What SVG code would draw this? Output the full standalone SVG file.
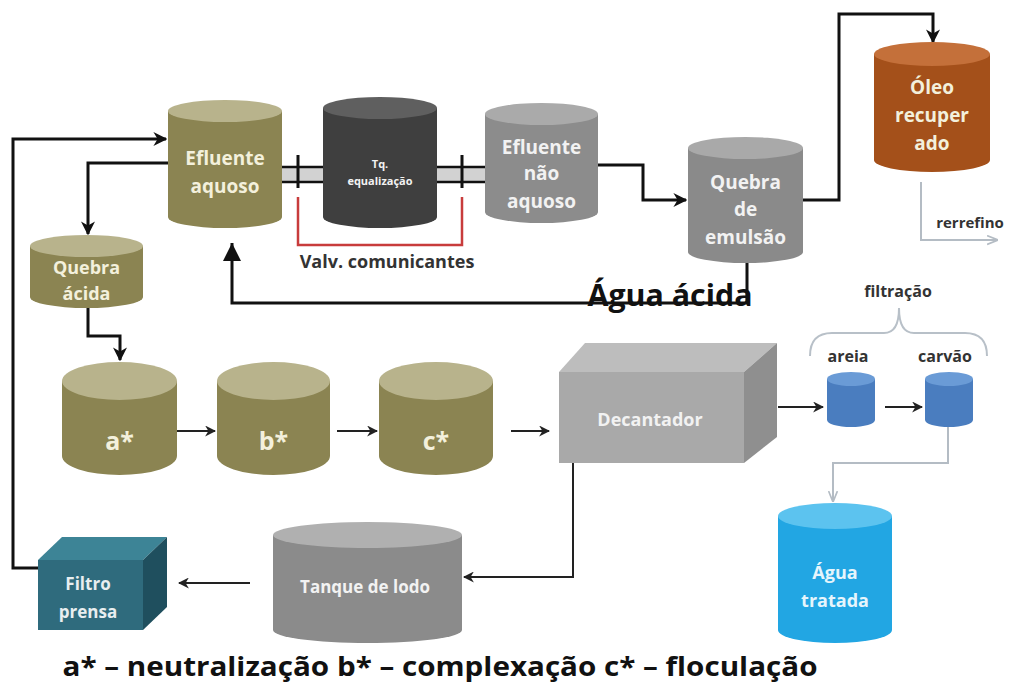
<svg xmlns="http://www.w3.org/2000/svg" width="1019" height="684" viewBox="0 0 1019 684">
<defs>
<style>
.t{font-family:"Open Sans","Liberation Sans",sans-serif;font-weight:bold;text-anchor:middle}
.cream{fill:#f3f0dc}
.wh{fill:#f2f2f2}
.lbl{fill:#333333}
.conn{fill:none;stroke:#111;stroke-width:3}
.thin{fill:none;stroke:#222;stroke-width:2}
.gray{fill:none;stroke:#b4bcc4;stroke-width:2}
.olive{fill:#8b8452}.olivetop{fill:#b8b38c}
</style>
<marker id="ah" viewBox="0 0 10 10" refX="9" refY="5" markerWidth="14" markerHeight="14" markerUnits="userSpaceOnUse" orient="auto">
<path d="M0,0 L10,5 L0,10 L3,5 Z" fill="#111"/>
</marker>
<marker id="ahs" viewBox="0 0 10 10" refX="9" refY="5" markerWidth="11" markerHeight="11" markerUnits="userSpaceOnUse" orient="auto">
<path d="M0,0 L10,5 L0,10 L3,5 Z" fill="#222"/>
</marker>
<marker id="ahg" viewBox="0 0 10 10" refX="9" refY="5" markerWidth="11" markerHeight="11" markerUnits="userSpaceOnUse" orient="auto">
<path d="M0,1 L10,5 L0,9" fill="none" stroke="#b4bcc4" stroke-width="1.5"/>
</marker>
<marker id="big" viewBox="0 0 10 10" refX="10" refY="5" markerWidth="18" markerHeight="18" markerUnits="userSpaceOnUse" orient="auto">
<path d="M0,0 L10,5 L0,10 Z" fill="#111"/>
</marker>
</defs>
<rect width="1019" height="684" fill="#ffffff"/>

<g id="connectors">
<path class="conn" d="M38,568 H13 V139 H166" marker-end="url(#ah)"/>
<path class="conn" d="M168,163 H88 V234" marker-end="url(#ah)"/>
<path class="conn" d="M88,308 V336 H120 V360" marker-end="url(#ah)"/>
<path class="thin" d="M177,431 H215" marker-end="url(#ahs)"/>
<path class="thin" d="M337,431 H377" marker-end="url(#ahs)"/>
<path class="thin" d="M511,431 H549" marker-end="url(#ahs)"/>
<path class="thin" d="M778,407 H823" marker-end="url(#ahs)"/>
<path class="thin" d="M885,407 H922" marker-end="url(#ahs)"/>
<path class="gray" d="M948,427 V463 H833 V501" marker-end="url(#ahg)"/>
<path class="thin" d="M573,463 V577 H464" marker-end="url(#ahs)"/>
<path class="thin" d="M250,583 H179" marker-end="url(#ahs)"/>
<path class="conn" d="M598,165 H643 V200 H686" marker-end="url(#ah)"/>
<path class="conn" d="M803,200 H839 V14 H933 V42" marker-end="url(#ah)"/>
<path class="gray" d="M921,182 V240 H997" marker-end="url(#ahg)"/>
<path class="conn" d="M747,263 V303 H232 V243" marker-end="url(#big)"/>
<path fill="none" stroke="#b8c0c8" stroke-width="2" d="M810,356 Q810,333 832,333 H884 Q899,333 899,308 Q899,333 914,333 H965 Q987,333 987,356"/>
</g>

<g id="pipes">
<rect x="282" y="167" width="41" height="15" fill="#d2d2d2"/>
<rect x="437" y="167" width="48" height="15" fill="#d2d2d2"/>
<path d="M282,167 H323 M282,182 H323 M437,167 H485 M437,182 H485" stroke="#111" stroke-width="2.5" fill="none"/>
<path d="M298,155 V188 M462,155 V188" stroke="#111" stroke-width="3" fill="none"/>
<path d="M298,197 V245 H462 V197" stroke="#c83c3c" stroke-width="2.5" fill="none"/>
</g>

<g id="efluente-aquoso">
<path class="olive" d="M168,111 V217 A57,11 0 0 0 282,217 V111 Z"/>
<ellipse class="olivetop" cx="225" cy="111" rx="57" ry="11"/>
<text class="t cream" x="225" y="165" font-size="19">Efluente</text>
<text class="t cream" x="225" y="193" font-size="19">aquoso</text>
</g>

<g id="tq-equalizacao">
<path fill="#3f3f3f" d="M323,108 V217 A57,11 0 0 0 437,217 V108 Z"/>
<ellipse fill="#5f5f5f" cx="380" cy="108" rx="57" ry="11"/>
<text class="t wh" x="380" y="168" font-size="11">Tq.</text>
<text class="t wh" x="380" y="185" font-size="11">equalização</text>
</g>

<g id="efluente-nao-aquoso">
<path fill="#8c8c8c" d="M485,114 V212 A56.5,11 0 0 0 598,212 V114 Z"/>
<ellipse fill="#aaaaaa" cx="541.5" cy="114" rx="56.5" ry="11"/>
<text class="t wh" x="541.5" y="154" font-size="19">Efluente</text>
<text class="t wh" x="541.5" y="180" font-size="19">não</text>
<text class="t wh" x="541.5" y="208" font-size="19">aquoso</text>
</g>

<g id="valv-label">
<text class="t lbl" x="387" y="268" font-size="18">Valv. comunicantes</text>
</g>

<g id="quebra-emulsao">
<path fill="#8a8a8a" d="M688,148 V252 A57.5,11 0 0 0 803,252 V148 Z"/>
<ellipse fill="#a9a9a9" cx="745.5" cy="148" rx="57.5" ry="11"/>
<text class="t wh" x="745.5" y="189" font-size="19">Quebra</text>
<text class="t wh" x="745.5" y="216" font-size="19">de</text>
<text class="t wh" x="745.5" y="244" font-size="19">emulsão</text>
</g>

<g id="oleo">
<path fill="#a4501a" d="M874,54 V160 A58,12 0 0 0 990,160 V54 Z"/>
<ellipse fill="#c4703a" cx="932" cy="54" rx="58" ry="12"/>
<text class="t cream" x="932" y="94" font-size="19">Óleo</text>
<text class="t cream" x="932" y="122" font-size="19">recuper</text>
<text class="t cream" x="932" y="150" font-size="19">ado</text>
</g>

<g id="rerrefino">
<text class="t lbl" x="970" y="228" font-size="15">rerrefino</text>
</g>

<g id="agua-acida">
<text class="t" fill="#111" x="670" y="306" font-size="31" textLength="165" lengthAdjust="spacingAndGlyphs">Água ácida</text>
</g>

<g id="quebra-acida">
<path class="olive" d="M30,246 V297 A56.5,11 0 0 0 143,297 V246 Z"/>
<ellipse class="olivetop" cx="86.5" cy="246" rx="56.5" ry="11"/>
<text class="t cream" x="86.5" y="274" font-size="18">Quebra</text>
<text class="t cream" x="86.5" y="300" font-size="18">ácida</text>
</g>

<g id="a">
<path class="olive" d="M62,381 V456 A57.5,19 0 0 0 177,456 V381 Z"/>
<ellipse class="olivetop" cx="119.5" cy="381" rx="57.5" ry="19"/>
<text class="t cream" x="119.5" y="450" font-size="25">a*</text>
</g>
<g id="b">
<path class="olive" d="M217,381 V456 A56.5,19 0 0 0 330,456 V381 Z"/>
<ellipse class="olivetop" cx="273.5" cy="381" rx="56.5" ry="19"/>
<text class="t cream" x="273.5" y="450" font-size="25">b*</text>
</g>
<g id="c">
<path class="olive" d="M379,381 V456 A57,19 0 0 0 493,456 V381 Z"/>
<ellipse class="olivetop" cx="436" cy="381" rx="57" ry="19"/>
<text class="t cream" x="436" y="450" font-size="25">c*</text>
</g>

<g id="decantador">
<polygon fill="#bdbdbd" points="559,372 585,343 777,343 744,372"/>
<polygon fill="#8f8f8f" points="744,372 777,343 777,437 744,463"/>
<rect x="559" y="372" width="185" height="91" fill="#a9a9a9"/>
<text class="t wh" x="650" y="426" font-size="18">Decantador</text>
</g>

<g id="filtracao">
<text class="t lbl" x="898" y="297" font-size="16">filtração</text>
</g>

<g id="areia">
<text class="t lbl" x="848" y="362" font-size="16">areia</text>
<path fill="#4a7dbf" d="M827,379 V420 A24,7 0 0 0 875,420 V379 Z"/>
<ellipse fill="#6a9bd6" cx="851" cy="379" rx="24" ry="7"/>
</g>

<g id="carvao">
<text class="t lbl" x="945" y="362" font-size="16">carvão</text>
<path fill="#4a7dbf" d="M925,379 V420 A24,7 0 0 0 973,420 V379 Z"/>
<ellipse fill="#6a9bd6" cx="949" cy="379" rx="24" ry="7"/>
</g>

<g id="agua-tratada">
<path fill="#22a6e3" d="M778,516 V630 A57,13 0 0 0 892,630 V516 Z"/>
<ellipse fill="#5cc3ef" cx="835" cy="516" rx="57" ry="13"/>
<text class="t" fill="#e6f5fc" x="835" y="579" font-size="18">Água</text>
<text class="t" fill="#e6f5fc" x="835" y="607" font-size="18">tratada</text>
</g>

<g id="tanque-lodo">
<path fill="#8b8b8b" d="M273,535 V630 A94.5,13 0 0 0 462,630 V535 Z"/>
<ellipse fill="#b0b0b0" cx="367.5" cy="535" rx="94.5" ry="13"/>
<text class="t wh" x="365" y="593" font-size="17">Tanque de lodo</text>
</g>

<g id="filtro-prensa">
<polygon fill="#3d8496" points="38,560 62,537 167,537 143,560"/>
<polygon fill="#1f4f5e" points="143,560 167,537 167,607 143,630"/>
<rect x="38" y="560" width="105" height="70" fill="#2f6b7d"/>
<text class="t" fill="#e8eef0" x="88" y="590" font-size="17">Filtro</text>
<text class="t" fill="#e8eef0" x="88" y="618" font-size="17">prensa</text>
</g>

<g id="legend">
<text class="t" fill="#111" x="440" y="676" font-size="27" textLength="755" lengthAdjust="spacingAndGlyphs">a* – neutralização b* – complexação c* – floculação</text>
</g>
</svg>
